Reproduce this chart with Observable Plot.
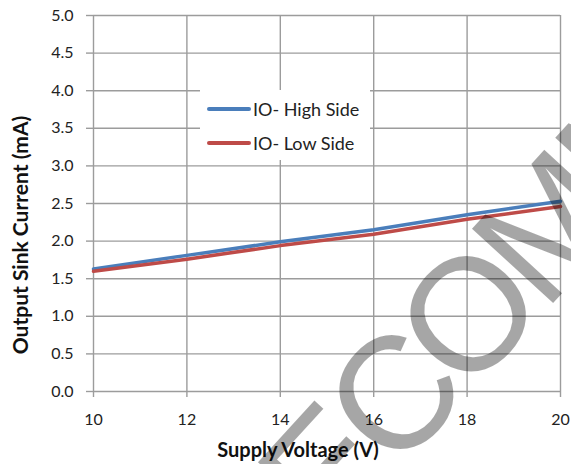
<!DOCTYPE html>
<html>
<head>
<meta charset="utf-8">
<script src="https://cdn.jsdelivr.net/npm/d3@7"></script>
<script src="https://cdn.jsdelivr.net/npm/@observablehq/plot@0.6"></script>
<style>
  html, body { margin: 0; padding: 0; background: white; overflow: hidden; }
  #wrap { position: relative; width: 571px; height: 464px; font-family: Lato, "Open Sans", sans-serif; }
  #legend { position: absolute; left: 200px; top: 90px; width: 170px; height: 70px; background: white; }
  .item { position: absolute; left: 0; height: 20px; display: flex; align-items: center; }
  .sw { width: 44px; height: 4px; border-radius: 2px; margin-left: 7px; margin-right: 2px; }
  .lab { font-size: 18px; color: #222; white-space: nowrap; }
</style>
</head>
<body>
<div id="wrap"></div>
<script>
const voltage = [10, 12, 14, 16, 18, 20];
const highSide = [1.63, 1.81, 1.99, 2.15, 2.35, 2.53];
const lowSide = [1.60, 1.76, 1.94, 2.09, 2.29, 2.46];
const seriesNames = ["IO- High Side", "IO- Low Side"];
const seriesColors = ["#4a7ebb", "#be4b48"];
const xTicks = [10, 12, 14, 16, 18, 20];
const yTicks = [0, 0.5, 1, 1.5, 2, 2.5, 3, 3.5, 4, 4.5, 5];
const xTitle = "Supply Voltage (V)";
const yTitle = "Output Sink Current (mA)";
const watermark = "RECOMMEND";

const rows = [];
voltage.forEach((v, i) => {
  rows.push({v, value: highSide[i], series: seriesNames[0]});
  rows.push({v, value: lowSide[i], series: seriesNames[1]});
});

const gridColor = "#9c9c9c";
const chart = Plot.plot({
  width: 571,
  height: 464,
  marginLeft: 93,
  marginRight: 11,
  marginTop: 15,
  marginBottom: 73,
  style: { fontFamily: "Lato, 'Open Sans', sans-serif", fontSize: "16px", background: "white" },
  x: { domain: [10, 20] },
  y: { domain: [0, 5] },
  color: { domain: seriesNames, range: seriesColors },
  marks: [
    Plot.gridX(xTicks, { stroke: gridColor, strokeOpacity: 1, strokeWidth: 1.4 }),
    Plot.gridY(yTicks, { stroke: gridColor, strokeOpacity: 1, strokeWidth: 1.4 }),
    Plot.axisX(xTicks, { tickSize: 6, tickPadding: 16, stroke: gridColor, strokeWidth: 1.4, fill: "#222", label: null, tickFormat: d => String(d) }),
    Plot.axisY(yTicks, { tickSize: 7, tickPadding: 13, stroke: gridColor, strokeWidth: 1.4, fill: "#222", label: null, tickFormat: d3.format(".1f") }),
    Plot.line(rows, { x: "v", y: "value", z: "series", stroke: "series", strokeWidth: 3.5 })
  ]
});

const svg = d3.select(chart);
svg.append("text")
  .attr("x", 298).attr("y", 457)
  .attr("text-anchor", "middle")
  .attr("font-weight", "bold").attr("font-size", 20).attr("fill", "#111")
  .text(xTitle);
svg.append("text")
  .attr("transform", "translate(28,235) rotate(-90)")
  .attr("text-anchor", "middle")
  .attr("font-weight", "bold").attr("font-size", 21).attr("fill", "#111")
  .text(yTitle);

const wrap = document.getElementById("wrap");
wrap.appendChild(chart);

// legend
const legend = document.createElement("div");
legend.id = "legend";
seriesNames.forEach((name, i) => {
  const it = document.createElement("div");
  it.className = "item";
  it.style.top = (i === 0 ? 9 : 43) + "px";
  const sw = document.createElement("div");
  sw.className = "sw";
  sw.style.background = seriesColors[i];
  const lab = document.createElement("span");
  lab.className = "lab";
  lab.textContent = name;
  it.appendChild(sw); it.appendChild(lab);
  legend.appendChild(it);
});
wrap.appendChild(legend);

// watermark overlay
const ov = d3.select(wrap).append("svg")
  .attr("width", 571).attr("height", 464)
  .style("position", "absolute").style("left", "0px").style("top", "0px")
  .style("pointer-events", "none");
ov.append("text")
  .attr("transform", "translate(259,624) rotate(-47.5)")
  .attr("font-family", "'Liberation Sans', Arial, sans-serif")
  .attr("font-size", 160)
  .attr("letter-spacing", -10)
  .attr("fill", "#000").attr("fill-opacity", 0.35)
  .text(watermark);
</script>
</body>
</html>
